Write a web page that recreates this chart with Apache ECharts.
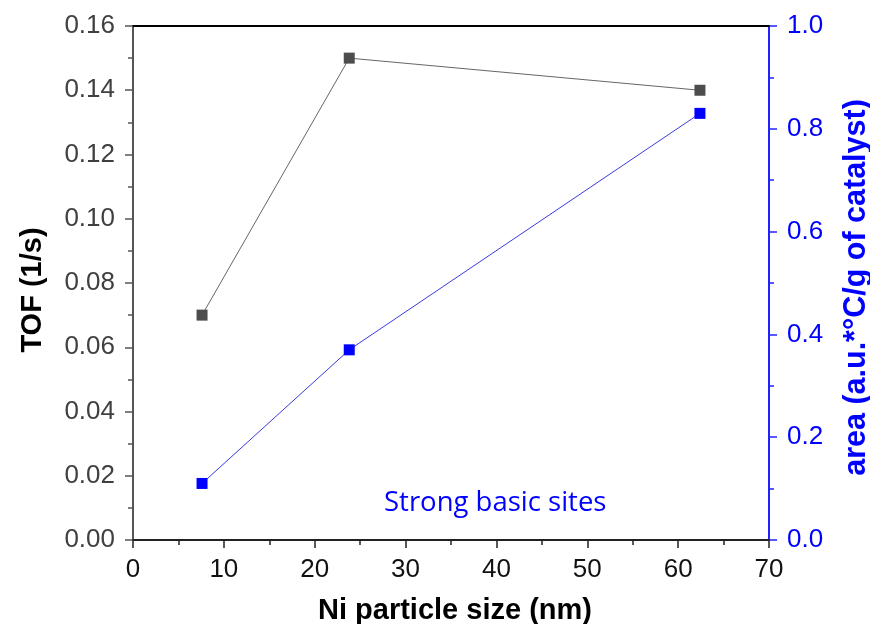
<!DOCTYPE html>
<html>
<head>
<meta charset="utf-8">
<script src="https://cdn.jsdelivr.net/npm/echarts@6/dist/echarts.min.js"></script>
<style>
  html, body { margin: 0; padding: 0; background: #fff; }
  #chart { width: 870px; height: 624px; }
</style>
</head>
<body>
<div id="chart"></div>
<script>
// Ni particle size (nm) for each catalyst
const particleSize = [7.6, 23.8, 62.4];
// Turnover frequency (1/s)
const tofValues = [0.07, 0.15, 0.14];
// Strong basic sites peak area (a.u.*°C/g of catalyst)
const basicSiteArea = [0.11, 0.37, 0.83];

const tofData = particleSize.map((x, i) => [x, tofValues[i]]);
const areaData = particleSize.map((x, i) => [x, basicSiteArea[i]]);

const labelFont = { fontFamily: 'Liberation Sans', fontSize: 26, color: '#404040' };
const nameFont = { fontFamily: 'Liberation Sans', fontSize: 29, fontWeight: 'bold' };

const chart = echarts.init(document.getElementById('chart'), null, { renderer: 'canvas' });
chart.setOption({
  animation: false,
  backgroundColor: '#ffffff',
  grid: { left: 133, right: 101, top: 26, bottom: 84, containLabel: false, outerBoundsMode: 'none' },
  xAxis: [
    {
      type: 'value', min: 0, max: 70, interval: 10,
      name: 'Ni particle size (nm)', nameLocation: 'middle', nameGap: 56,
      nameTextStyle: Object.assign({ color: '#000', padding: [0, 0, 0, 8] }, nameFont),
      axisLine: { lineStyle: { color: '#222', width: 2 } },
      axisTick: { show: true, inside: false, length: 8, lineStyle: { color: '#222', width: 1.5 } },
      minorTick: { show: true, splitNumber: 2, length: 5, lineStyle: { color: '#222', width: 1.5 } },
      axisLabel: Object.assign({ margin: 17 }, labelFont, { color: '#111' }),
      splitLine: { show: false }
    },
    {
      // top frame edge
      type: 'value', min: 0, max: 70, position: 'top',
      axisLine: { show: true, onZero: false, lineStyle: { color: '#000', width: 2 } },
      axisTick: { show: false }, axisLabel: { show: false }, splitLine: { show: false }
    }
  ],
  yAxis: [
    {
      type: 'value', min: 0, max: 0.16, interval: 0.02, position: 'left',
      name: 'TOF (1/s)', nameLocation: 'middle', nameGap: 86, nameRotate: 90,
      nameTextStyle: Object.assign({ color: '#000', padding: [0, 14, 0, 0] }, nameFont),
      axisLine: { show: true, onZero: false, lineStyle: { color: '#555', width: 2 } },
      axisTick: { show: true, length: 8, lineStyle: { color: '#555', width: 1.5 } },
      minorTick: { show: true, splitNumber: 2, length: 5, lineStyle: { color: '#555', width: 1.5 } },
      axisLabel: Object.assign({ margin: 18, formatter: v => v.toFixed(2) }, labelFont),
      splitLine: { show: false }
    },
    {
      type: 'value', min: 0, max: 1.0, interval: 0.2, position: 'right',
      name: 'area (a.u.*°C/g of catalyst)', nameLocation: 'middle', nameGap: 72, nameRotate: 90,
      nameTextStyle: Object.assign({ color: '#0000ff', padding: [0, 9, 0, 0] }, nameFont, { fontSize: 30.5 }),
      axisLine: { show: true, onZero: false, lineStyle: { color: '#2222ff', width: 2 } },
      axisTick: { show: true, length: 8, lineStyle: { color: '#2222ff', width: 1.5 } },
      minorTick: { show: true, splitNumber: 2, length: 5, lineStyle: { color: '#2222ff', width: 1.5 } },
      axisLabel: Object.assign({ margin: 18, formatter: v => v.toFixed(1) }, labelFont, { color: '#0000ff' }),
      splitLine: { show: false }
    }
  ],
  series: [
    {
      name: 'TOF', type: 'line', xAxisIndex: 0, yAxisIndex: 0, data: tofData,
      symbol: 'rect', symbolSize: 11,
      itemStyle: { color: '#4d4d4d' },
      lineStyle: { color: '#666', width: 1 }
    },
    {
      name: 'Strong basic sites', type: 'line', xAxisIndex: 0, yAxisIndex: 1, data: areaData,
      symbol: 'rect', symbolSize: 11,
      itemStyle: { color: '#0000ff' },
      lineStyle: { color: '#3a3ae0', width: 1 }
    }
  ],
  graphic: [
    {
      type: 'text', left: 384, top: 489,
      style: { text: 'Strong basic sites', fill: '#0000ff', font: '27.5px "Open Sans"' }
    }
  ]
});
</script>
</body>
</html>
